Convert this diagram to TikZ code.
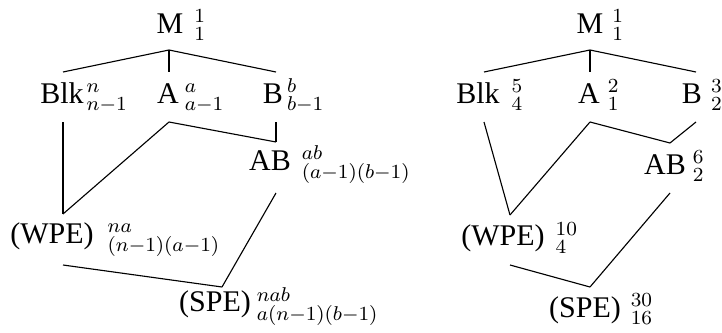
\documentclass[tikz,border=0pt,12pt]{standalone}
\usepackage{fontspec}
\setmainfont{Liberation Serif}
\newcommand{\lbl}[4]{#1\rlap{\hspace{#4}$^{#2}_{#3}$}}
\tikzset{
  hnode/.style={anchor=base, inner sep=0pt, font=\normalsize},
  edge/.style={line width=0.45pt}
}
\begin{document}
\begin{tikzpicture}[x=0.4pt,y=-0.4pt]
\useasboundingbox (0,0) rectangle (722,333);
% ---------- left diagram ----------
\node[hnode] (lM)   at (170,33)  {\lbl{M}{1}{1}{4.4pt}};
\node[hnode] (lBlk) at (62,103)  {\lbl{Blk}{n}{n-1}{1.2pt}};
\node[hnode] (lA)   at (168,103) {\lbl{A}{a}{a-1}{2.4pt}};
\node[hnode] (lB)   at (273,103) {\lbl{B}{b}{b-1}{1.6pt}};
\node[hnode] (lAB)  at (270,170) {\lbl{AB}{ab}{(a-1)(b-1)}{4.4pt}};
\node[hnode] (lWPE) at (52,243)  {\lbl{(WPE)}{na}{(n-1)(a-1)}{5.6pt}};
\node[hnode] (lSPE) at (215,312) {\lbl{(SPE)}{nab}{a(n-1)(b-1)}{2.4pt}};
\coordinate (lM-b)   at (169,50);
\coordinate (lBlk-t) at (63,72);
\coordinate (lBlk-b) at (63,122);
\coordinate (lA-t)   at (169,72);
\coordinate (lA-b)   at (169,122);
\coordinate (lB-t)   at (276,72);
\coordinate (lB-b)   at (276,122);
\coordinate (lAB-t)  at (276,142);
\coordinate (lAB-b)  at (276,193);
\coordinate (lWPE-t) at (63,214);
\coordinate (lWPE-b) at (63,265);
\coordinate (lSPE-t) at (222,287);
\draw[edge] (lM-b) -- (lBlk-t);
\draw[edge] (lM-b) -- (lA-t);
\draw[edge] (lM-b) -- (lB-t);
\draw[edge] (lBlk-b) -- (lWPE-t);
\draw[edge] (lA-b) -- (lWPE-t);
\draw[edge] (lA-b) -- (lAB-t);
\draw[edge] (lB-b) -- (lAB-t);
\draw[edge] (lAB-b) -- (lSPE-t);
\draw[edge] (lWPE-b) -- (lSPE-t);
% ---------- right diagram ----------
\node[hnode] (rM)   at (590,33)  {\lbl{M}{1}{1}{3.6pt}};
\node[hnode] (rBlk) at (478,103) {\lbl{Blk}{5}{4}{4.8pt}};
\node[hnode] (rA)   at (589,103) {\lbl{A}{2}{1}{3.2pt}};
\node[hnode] (rB)   at (692,103) {\lbl{B}{3}{2}{3.6pt}};
\node[hnode] (rAB)  at (665,174) {\lbl{AB}{6}{2}{2.8pt}};
\node[hnode] (rWPE) at (503,246) {\lbl{(WPE)}{10}{4}{4.4pt}};
\node[hnode] (rSPE) at (585,317) {\lbl{(SPE)}{30}{16}{4pt}};
\coordinate (rM-b)   at (590,50);
\coordinate (rBlk-t) at (484,72);
\coordinate (rBlk-b) at (484,122);
\coordinate (rA-t)   at (590,72);
\coordinate (rA-b)   at (590,122);
\coordinate (rB-t)   at (696,72);
\coordinate (rB-b)   at (696,122);
\coordinate (rAB-t)  at (670,143);
\coordinate (rAB-b)  at (670,193);
\coordinate (rWPE-t) at (510,215);
\coordinate (rWPE-b) at (510,265);
\coordinate (rSPE-t) at (590,287);
\draw[edge] (rM-b) -- (rBlk-t);
\draw[edge] (rM-b) -- (rA-t);
\draw[edge] (rM-b) -- (rB-t);
\draw[edge] (rBlk-b) -- (rWPE-t);
\draw[edge] (rA-b) -- (rWPE-t);
\draw[edge] (rA-b) -- (rAB-t);
\draw[edge] (rB-b) -- (rAB-t);
\draw[edge] (rAB-b) -- (rSPE-t);
\draw[edge] (rWPE-b) -- (rSPE-t);
\end{tikzpicture}
\end{document}
